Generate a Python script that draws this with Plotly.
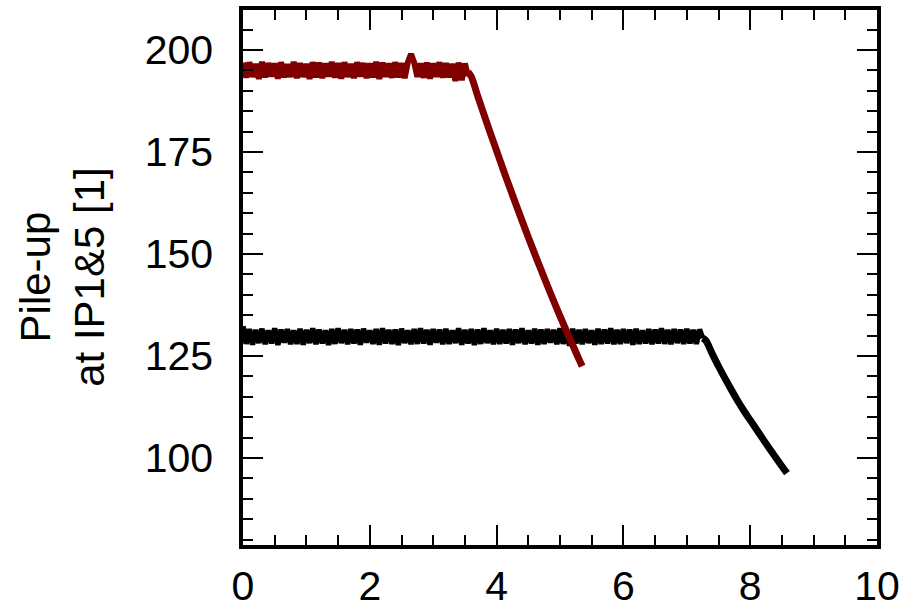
import numpy as np
import plotly.graph_objects as go

# ---- data -------------------------------------------------------------
# red scenario: levelled pile-up then decay
red_flat_x = np.round(np.arange(0.0, 3.575, 0.05), 3).tolist()
red_flat_y = [196.9, 193.2, 197.0, 193.4, 196.6, 192.9, 197.1, 193.3, 196.8, 193.5,
              196.7, 193.0, 197.0, 193.3, 196.5, 193.4, 197.1, 193.1, 196.8, 193.4,
              196.6, 192.9, 197.0, 193.3, 196.9, 193.1, 196.7, 193.5, 197.1, 193.2,
              196.8, 193.0, 197.0, 193.4, 196.6, 193.1, 197.0, 193.5, 196.8, 193.1,
              196.7, 193.3, 197.1, 192.9, 196.9, 193.4, 196.7, 193.2, 197.0, 193.3,
              196.8, 193.1, 197.0, 199.0, 196.9, 193.4, 196.7, 193.2, 196.9, 193.0,
              196.7, 193.4, 197.0, 193.2, 196.8, 193.3, 196.6, 192.4, 196.9, 192.6,
              196.7, 193.6]
red_decay_x = [3.55, 3.6, 3.7, 3.8, 3.9, 4.0, 4.1, 4.2, 4.3, 4.4, 4.5, 4.6, 4.7, 4.8,
               4.9, 5.0, 5.1, 5.2, 5.3, 5.35]
red_decay_y = [194.6, 193.5, 188.8, 184.2, 179.7, 175.3, 170.9, 166.6, 162.4, 158.2,
               154.1, 150.1, 146.2, 142.3, 138.5, 134.8, 131.2, 127.7, 124.2, 122.5]

# black scenario
black_flat_x = np.round(np.arange(0.0, 7.275, 0.05), 3).tolist()
black_flat_y = [132.3, 128.0, 131.6, 127.8, 131.4, 128.2, 131.7, 127.9, 131.3, 128.1,
                131.8, 127.7, 131.5, 128.3, 131.6, 127.9, 131.3, 128.0, 131.7, 127.8,
                131.4, 128.2, 131.8, 127.9, 131.5, 128.1, 131.3, 127.7, 131.6, 128.0,
                131.8, 128.2, 131.4, 127.9, 131.6, 128.1, 131.5, 127.8, 131.7, 128.3,
                131.3, 128.0, 131.6, 127.8, 131.8, 128.1, 131.4, 128.0, 131.5, 127.7,
                131.7, 128.2, 131.3, 127.9, 131.6, 128.0, 131.8, 128.1, 131.4, 127.8,
                131.6, 128.3, 131.5, 127.9, 131.7, 128.0, 131.3, 128.2, 131.8, 127.8,
                131.4, 128.1, 131.6, 127.7, 131.5, 128.0, 131.8, 128.2, 131.3, 127.9,
                131.7, 128.0, 131.4, 128.1, 131.6, 127.8, 131.5, 128.2, 131.8, 127.9,
                131.3, 128.1, 131.7, 127.8, 131.5, 128.0, 131.6, 128.3, 131.4, 127.9,
                131.8, 128.0, 131.5, 127.5, 131.7, 128.1, 131.4, 127.9, 131.6, 128.2,
                131.3, 127.8, 131.7, 128.0, 131.5, 128.1, 131.8, 127.9, 131.4, 128.0,
                131.6, 128.2, 131.5, 127.8, 131.7, 128.0, 131.3, 128.1, 131.6, 127.9,
                131.5, 128.1, 131.8, 128.0, 131.4, 127.9, 131.6, 128.2, 131.5, 128.0,
                131.7, 128.1, 131.4, 128.0, 131.5, 129.4]
black_decay_x = [7.25, 7.3, 7.4, 7.5, 7.6, 7.7, 7.8, 7.9, 8.0, 8.1, 8.2, 8.3, 8.4, 8.5, 8.58]
black_decay_y = [129.4, 128.8, 125.6, 122.5, 119.6, 116.8, 114.1, 111.6, 109.3, 107.0,
                 104.7, 102.4, 100.2, 98.0, 96.3]

x_ticks = [0, 2, 4, 6, 8, 10]
y_ticks = [100, 125, 150, 175, 200]
y_title = "Pile-up<br>at IP1&5 [1]"

# ---- figure -----------------------------------------------------------
fig = go.Figure()
BLACK = "#000000"
RED = "#800000"
fig.add_trace(go.Scatter(x=black_flat_x, y=black_flat_y, mode="lines",
                         line=dict(color=BLACK, width=5.5, simplify=False), showlegend=False))
fig.add_trace(go.Scatter(x=black_decay_x, y=black_decay_y, mode="lines",
                         line=dict(color=BLACK, width=7, shape="spline"), showlegend=False))
fig.add_trace(go.Scatter(x=red_flat_x, y=red_flat_y, mode="lines",
                         line=dict(color=RED, width=6, simplify=False), showlegend=False))
fig.add_trace(go.Scatter(x=red_decay_x, y=red_decay_y, mode="lines",
                         line=dict(color=RED, width=7, shape="spline"), showlegend=False))

font = "Liberation Sans, Arial, Helvetica, sans-serif"
axis_common = dict(showline=True, linecolor="black", linewidth=3.5, mirror="allticks",
                   ticks="inside", ticklen=20, tickwidth=2, tickcolor="black",
                   showgrid=False, zeroline=False, automargin=False,
                   tickfont=dict(family=font, size=41, color="black"))

fig.update_xaxes(range=[0, 10], tickvals=x_ticks,
                 minor=dict(dtick=0.5, ticks="inside", ticklen=10, tickwidth=2,
                            tickcolor="black", showgrid=False),
                 ticklabelstandoff=2, **axis_common)
fig.update_yaxes(range=[78.7, 209.8], tickvals=y_ticks,
                 minor=dict(dtick=5, ticks="inside", ticklen=10, tickwidth=2,
                            tickcolor="black", showgrid=False),
                 ticklabelstandoff=18, **axis_common)

fig.add_annotation(text=y_title, xref="paper", yref="paper", x=-0.285, y=0.5,
                   xanchor="center", yanchor="middle", textangle=-90, showarrow=False,
                   font=dict(family=font, size=42, color="black"))

fig.update_layout(width=917, height=614, margin=dict(l=243, r=40, t=10, b=69),
                  plot_bgcolor="white", paper_bgcolor="white")

fig.write_html("out.html")
